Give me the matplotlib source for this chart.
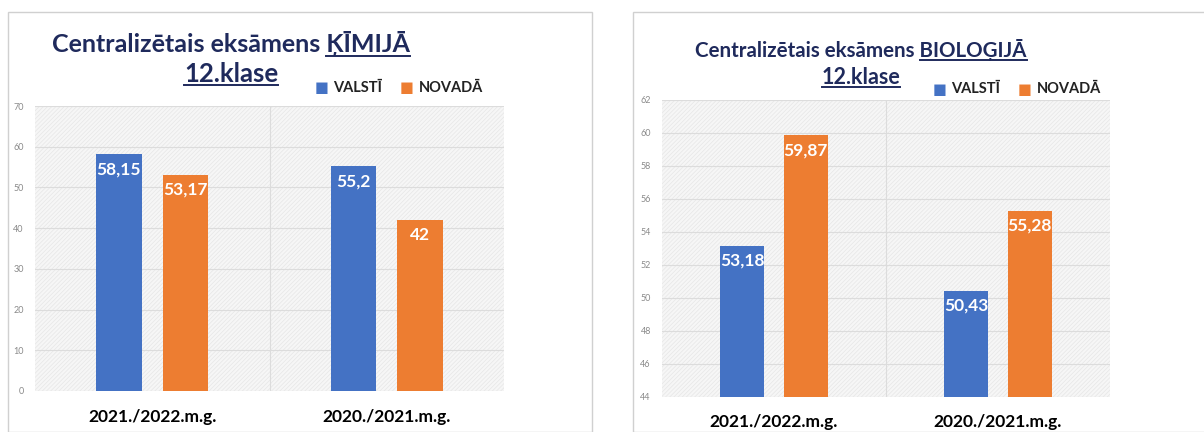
import matplotlib.pyplot as plt
from matplotlib.patches import Rectangle
from matplotlib.lines import Line2D

plt.rcParams['font.family'] = ['Lato', 'DejaVu Sans']
plt.rcParams['hatch.linewidth'] = 0.5

# dati
gadi = ['2021./2022.m.g.', '2020./2021.m.g.']
serijas = ['VALSTĪ', 'NOVADĀ']
kimija_valsti = [58.15, 55.2]
kimija_novada = [53.17, 42]
bio_valsti = [53.18, 50.43]
bio_novada = [59.87, 55.28]

zils = '#4472C4'
oranzs = '#ED7D31'
tumsi = '#1F2A5C'

W, H = 1204, 432
fig = plt.figure(figsize=(W / 100, H / 100), dpi=100)
fig.patch.set_facecolor('white')


def px(x0, y0, x1, y1):
    # pikseli (no augšas) -> figūras koordinātes
    return [x0 / W, 1 - y1 / H, (x1 - x0) / W, (y1 - y0) / H]


def fmt(v):
    s = ('%.2f' % v).rstrip('0').rstrip('.')
    return s.replace('.', ',')


def panelis(rect, valsti, novada, ylim, yticks, lbl_fs, xl_pad):
    ax = fig.add_axes(rect)
    ax.set_facecolor('#f6f6f6')
    ax.add_patch(Rectangle((0, 0), 1, 1, transform=ax.transAxes, facecolor='none',
                           edgecolor='#e6e6e6', hatch='////////', lw=0, zorder=0))
    x = [0, 1]
    w = 0.195
    b1 = ax.bar([i - 0.142 for i in x], valsti, w, color=zils, zorder=3)
    b2 = ax.bar([i + 0.142 for i in x], novada, w, color=oranzs, zorder=3)
    for bars, vals in ((b1, valsti), (b2, novada)):
        for b, v in zip(bars, vals):
            ax.annotate(fmt(v), (b.get_x() + b.get_width() / 2, v), xytext=(0, -5),
                        textcoords='offset points', ha='center', va='top',
                        color='white', fontsize=lbl_fs, fontweight='bold', zorder=4)
    ax.set_xlim(-0.5, 1.5)
    ax.set_ylim(*ylim)
    ax.set_yticks(yticks)
    ax.set_xticks(x)
    ax.set_xticklabels(gadi, fontsize=12.5, fontweight='bold', color='black')
    ax.tick_params(axis='x', length=0, pad=xl_pad)
    ax.tick_params(axis='y', length=0, labelsize=6.5, labelcolor='#8a8a8a', pad=8)
    ax.grid(axis='y', color='#dcdcdc', lw=0.8, zorder=1)
    ax.axvline(0.5, color='#dcdcdc', lw=0.8, zorder=1)
    for s in ax.spines.values():
        s.set_visible(False)
    return ax


# ramji
fig.patches.append(Rectangle((8 / W, 0), 584 / W, 1 - 12 / H, transform=fig.transFigure,
                             facecolor='none', edgecolor='#d0d0d0', lw=1))
fig.patches.append(Rectangle((633 / W, 0), 600 / W, 1 - 12 / H, transform=fig.transFigure,
                             facecolor='none', edgecolor='#d0d0d0', lw=1))

ax1 = panelis(px(35, 106, 504, 391), kimija_valsti, kimija_novada, (0, 70),
              range(0, 71, 10), 12.5, 13)
ax2 = panelis(px(662, 100, 1110, 397), bio_valsti, bio_novada, (44, 62),
              range(44, 63, 2), 12.5, 12)

fig.canvas.draw()
r = fig.canvas.get_renderer()


def pasvitrot(t, prieks=''):
    bb = t.get_window_extent(r)
    x0 = bb.x0
    if prieks:
        tmp = fig.text(0, 0, prieks, fontsize=t.get_fontsize(), fontweight='bold')
        x0 = bb.x0 + tmp.get_window_extent(r).width
        tmp.remove()
    y = bb.y0 + 1
    fig.add_artist(Line2D([x0 / W, bb.x1 / W], [y / H, y / H], color=tumsi, lw=1.4))


def virsraksts(xc, y1, y2, prieks, prieksmets, fs1, fs2):
    t1 = fig.text(xc / W, 1 - y1 / H, prieks + prieksmets, ha='center', va='center',
                  fontsize=fs1, fontweight='bold', color=tumsi)
    t2 = fig.text(xc / W, 1 - y2 / H, '12.klase', ha='center', va='center',
                  fontsize=fs2, fontweight='bold', color=tumsi)
    fig.canvas.draw()
    pasvitrot(t1, prieks)
    pasvitrot(t2)


virsraksts(231, 44, 74, 'Centralizētais eksāmens ', 'ĶĪMIJĀ', 18, 18.5)
virsraksts(861, 50, 77, 'Centralizētais eksāmens ', 'BIOLOĢIJĀ', 14.8, 15.5)


def legenda(x, y, fs):
    for nos, kr in zip(serijas, (zils, oranzs)):
        t = fig.text(x / W, 1 - y / H, '■ ', color=kr, fontsize=fs, va='center',
                     family='DejaVu Sans')
        fig.canvas.draw()
        x += t.get_window_extent(r).width
        t = fig.text(x / W, 1 - y / H, nos, color='#222222', fontsize=fs, va='center',
                     fontweight='bold')
        fig.canvas.draw()
        x += t.get_window_extent(r).width + 18


legenda(315, 88, 10.5)
legenda(933, 89, 10.5)

fig.savefig('out.png', dpi=100)
